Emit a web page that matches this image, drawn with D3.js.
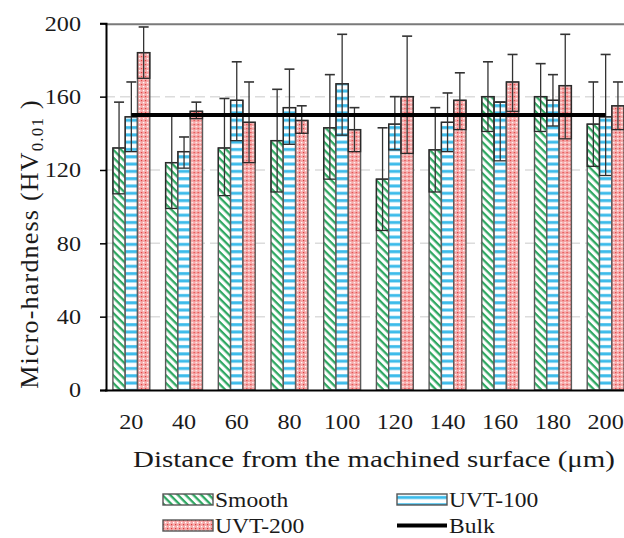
<!DOCTYPE html>
<html>
<head>
<meta charset="utf-8">
<script src="https://cdn.jsdelivr.net/npm/d3@7"></script>
<style>
  body { margin: 0; background: #fff; }
  svg { display: block; }
  text { font-family: "Liberation Serif", "Times New Roman", Times, serif; fill: #1a1a1a; }
</style>
</head>
<body>
<svg id="chart" width="624" height="538"></svg>
<script>
// Micro-hardness profiles below the machined surface
const distances = ["20", "40", "60", "80", "100", "120", "140", "160", "180", "200"];
const seriesNames = ["Smooth", "UVT-100", "UVT-200"];

const smoothMean    = [132, 124, 132, 136, 143, 115, 131, 160, 160, 145];
const smoothErrLow  = [25, 25, 26, 28, 28, 28, 23, 19, 19, 23];
const smoothErrHigh = [25, 26, 27, 28, 29, 28, 23, 19, 18, 23];

const uvt100Mean    = [149, 130, 158, 154, 167, 145, 146, 157, 158, 149];
const uvt100ErrLow  = [19, 9, 22, 20, 28, 14, 16, 32, 14, 32];
const uvt100ErrHigh = [19, 8, 21, 21, 27, 15, 16, 0, 14, 34];

const uvt200Mean    = [184, 152, 146, 147, 142, 160, 158, 168, 166, 155];
const uvt200ErrLow  = [14, 4, 22, 7, 12, 31, 16, 16, 29, 13];
const uvt200ErrHigh = [14, 5, 22, 8, 12, 33, 15, 15, 28, 13];

const bulkHardness  = [150, 150, 150, 150, 150, 150, 150, 150, 150, 150];

const yTicks = [0, 40, 80, 120, 160, 200];
const gridTicks = [40, 80, 120, 160];

const FONT = '"Liberation Serif", "Times New Roman", Times, serif';
const svg = d3.select("#chart");
const W = 624;
const plotLeft = 105, plotRight = W + 8;
const plotTop = 23.3, plotBottom = 390;

// ---- patterns ----
const defs = svg.append("defs");

const pGreen = defs.append("pattern")
  .attr("id", "pat-smooth").attr("patternUnits", "userSpaceOnUse")
  .attr("width", 5.5).attr("height", 5.5)
  .attr("patternTransform", "rotate(45)");
pGreen.append("rect").attr("width", 5.5).attr("height", 5.5).attr("fill", "#fff");
pGreen.append("rect").attr("y", 0).attr("width", 5.5).attr("height", 2.3).attr("fill", "#2fa862");

const pBlue = defs.append("pattern")
  .attr("id", "pat-uvt100").attr("patternUnits", "userSpaceOnUse")
  .attr("width", 8).attr("height", 7.3);
pBlue.append("rect").attr("width", 8).attr("height", 7.3).attr("fill", "#fff");
pBlue.append("rect").attr("y", 2).attr("width", 8).attr("height", 3).attr("fill", "#3cbbea");

const pRed = defs.append("pattern")
  .attr("id", "pat-uvt200").attr("patternUnits", "userSpaceOnUse")
  .attr("width", 4).attr("height", 4);
pRed.append("rect").attr("width", 4).attr("height", 4).attr("fill", "#f5a9a9");
pRed.append("rect").attr("x", 0).attr("y", 0).attr("width", 1.2).attr("height", 1.2).attr("fill", "#e23a3a");
pRed.append("rect").attr("x", 2).attr("y", 2).attr("width", 1.3).attr("height", 1.3).attr("fill", "#fff");

const fills = { "Smooth": "url(#pat-smooth)", "UVT-100": "url(#pat-uvt100)", "UVT-200": "url(#pat-uvt200)" };

// ---- scales ----
const x0 = d3.scaleBand().domain(distances)
  .range([plotLeft, plotLeft + 52.7 * distances.length])
  .paddingInner(0.3).paddingOuter(0.15);
const x1 = d3.scaleBand().domain(seriesNames).range([0, x0.bandwidth()]);
const y = d3.scaleLinear().domain([0, 200]).range([plotBottom, plotTop]);

// widen serif glyphs horizontally to a given advance
function widen(sel, factor) {
  sel.each(function () {
    const w = this.getComputedTextLength();
    d3.select(this).attr("textLength", w * factor).attr("lengthAdjust", "spacingAndGlyphs");
  });
}

// ---- gridlines & frame ----
svg.append("g").selectAll("line").data(gridTicks).join("line")
  .attr("x1", plotLeft).attr("x2", plotRight)
  .attr("y1", d => y(d)).attr("y2", d => y(d))
  .attr("stroke", "#dcdcdc").attr("stroke-width", 1.5)
  .attr("stroke-dasharray", "10,5");

svg.append("line")
  .attr("x1", plotLeft).attr("x2", plotRight)
  .attr("y1", y(200) + 1).attr("y2", y(200) + 1)
  .attr("stroke", "#7a7a7a").attr("stroke-width", 2);

// ---- bars ----
const rows = distances.map((d, i) => ({
  d,
  values: [
    { s: "Smooth",  m: smoothMean[i],  lo: smoothErrLow[i],  hi: smoothErrHigh[i] },
    { s: "UVT-100", m: uvt100Mean[i],  lo: uvt100ErrLow[i],  hi: uvt100ErrHigh[i] },
    { s: "UVT-200", m: uvt200Mean[i],  lo: uvt200ErrLow[i],  hi: uvt200ErrHigh[i] }
  ]
}));

const groups = svg.append("g").selectAll("g").data(rows).join("g")
  .attr("transform", r => `translate(${x0(r.d)},0)`);

const bars = groups.selectAll("g.bar").data(r => r.values).join("g").attr("class", "bar");

bars.append("rect")
  .attr("x", v => x1(v.s)).attr("width", x1.bandwidth())
  .attr("y", v => y(v.m)).attr("height", v => y(0) - y(v.m))
  .attr("fill", v => fills[v.s])
  .attr("stroke", "#5a5a5a").attr("stroke-width", 1.4);

// lower whisker region framed inside the bar
bars.append("rect")
  .attr("x", v => x1(v.s)).attr("width", x1.bandwidth())
  .attr("y", v => y(v.m)).attr("height", v => y(v.m - v.lo) - y(v.m))
  .attr("fill", "none")
  .attr("stroke", "#2a2a2a").attr("stroke-width", 1.3);

// whiskers
const cx = v => x1(v.s) + x1.bandwidth() / 2;
bars.append("line")
  .attr("x1", cx).attr("x2", cx)
  .attr("y1", v => y(v.m - v.lo)).attr("y2", v => y(v.m + v.hi))
  .attr("stroke", "#333").attr("stroke-width", 1.3);
bars.append("line")
  .attr("x1", v => cx(v) - 5).attr("x2", v => cx(v) + 5)
  .attr("y1", v => y(v.m + v.hi)).attr("y2", v => y(v.m + v.hi))
  .attr("stroke", "#333").attr("stroke-width", 1.6);

// ---- bulk reference line ----
const line = d3.line()
  .x((v, i) => x0(distances[i]) + x0.bandwidth() / 2)
  .y(v => y(v));
svg.append("path").datum(bulkHardness)
  .attr("d", line).attr("fill", "none")
  .attr("stroke", "#000").attr("stroke-width", 4);

// ---- axes ----
const yAxis = svg.append("g").attr("transform", `translate(${plotLeft + 1},0)`)
  .call(d3.axisLeft(y).tickValues(yTicks).tickSize(6).tickPadding(19).tickFormat(d3.format("d")));
yAxis.attr("font-family", FONT);
yAxis.select(".domain").attr("stroke", "#000").attr("stroke-width", 2);
yAxis.selectAll(".tick line").attr("stroke", "#000").attr("stroke-width", 1.5);
yAxis.selectAll(".tick text")
  .attr("font-size", 21).attr("font-family", FONT).attr("fill", "#1a1a1a")
  .call(widen, 1.15);

svg.append("line")
  .attr("x1", plotLeft).attr("x2", plotRight)
  .attr("y1", plotBottom + 0.5).attr("y2", plotBottom + 0.5)
  .attr("stroke", "#000").attr("stroke-width", 2);

svg.append("g").selectAll("text").data(distances).join("text")
  .attr("x", d => x0(d) + x0.bandwidth() / 2)
  .attr("y", 429)
  .attr("text-anchor", "middle")
  .attr("font-family", FONT)
  .attr("font-size", 21)
  .text(d => d)
  .call(widen, 1.15);

// axis titles
svg.append("text")
  .attr("x", 374).attr("y", 467)
  .attr("text-anchor", "middle")
  .attr("font-family", FONT)
  .attr("font-size", 23)
  .attr("textLength", 482).attr("lengthAdjust", "spacingAndGlyphs")
  .text("Distance  from the machined  surface (μm)");

const yTitle = svg.append("text")
  .attr("transform", "translate(38,244) rotate(-90)")
  .attr("text-anchor", "middle")
  .attr("font-family", FONT)
  .attr("font-size", 26)
  .attr("letter-spacing", 1.2);
yTitle.append("tspan").text("Micro-hardness  (HV");
yTitle.append("tspan").attr("font-size", 17).attr("dy", 5).text("0.01");
yTitle.append("tspan").attr("dy", -5).text(" )");

// ---- legend ----
const legendItems = [
  { name: "Smooth",  kind: "bar",  col: 0, row: 0 },
  { name: "UVT-100", kind: "bar",  col: 1, row: 0 },
  { name: "UVT-200", kind: "bar",  col: 0, row: 1 },
  { name: "Bulk",    kind: "line", col: 1, row: 1 }
];
const lg = svg.append("g").selectAll("g").data(legendItems).join("g")
  .attr("transform", d => `translate(${163 + d.col * 234},${494 + d.row * 26})`);
lg.filter(d => d.kind === "bar").append("rect")
  .attr("width", 50).attr("height", 11)
  .attr("fill", d => fills[d.name])
  .attr("stroke", "#555").attr("stroke-width", 1.4);
lg.filter(d => d.kind === "line").append("line")
  .attr("x1", 0).attr("x2", 50).attr("y1", 5.5).attr("y2", 5.5)
  .attr("stroke", "#000").attr("stroke-width", 4);
lg.append("text")
  .attr("x", 52).attr("y", 12.5)
  .attr("font-family", FONT)
  .attr("font-size", 21)
  .text(d => d.name)
  .call(widen, 1.12);
</script>
</body>
</html>
